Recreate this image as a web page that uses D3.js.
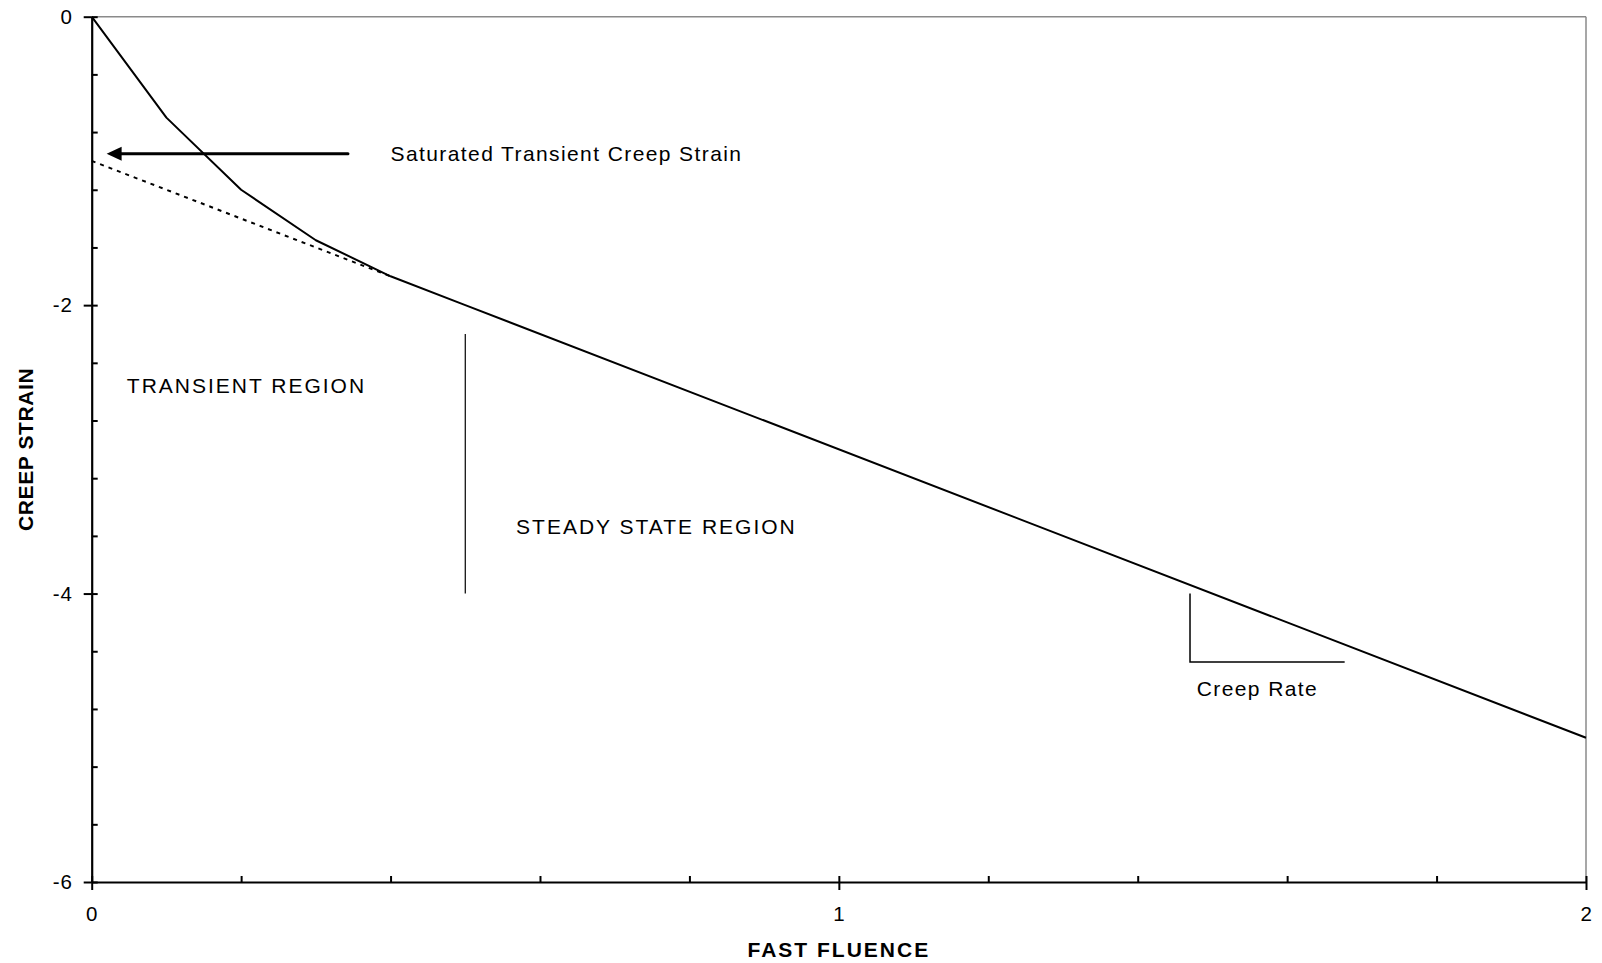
<!DOCTYPE html>
<html>
<head>
<meta charset="utf-8">
<script src="https://cdn.jsdelivr.net/npm/d3@7"></script>
<style>
  body { margin: 0; background: #fff; }
  svg text { font-family: "Liberation Sans", Arial, sans-serif; fill: #000; }
</style>
</head>
<body>
<svg id="chart"></svg>
<script>
// Curva de fluencia
const fluence = [0, 0.1, 0.2, 0.3, 0.4, 0.5, 2];
const strain = [0, -0.7, -1.2, -1.55, -1.8, -2, -5];

// Extrapolacion del estado estacionario (punteada)
const steadyFluence = [0, 0.4];
const steadyStrain = [-1, -1.8];

// Flecha de deformacion transitoria saturada
const arrowFluence = [0.343, 0.02];
const arrowStrain = [-0.95, -0.95];

// Linea divisoria entre regiones
const dividerFluence = [0.5, 0.5];
const dividerStrain = [-2.2, -4.0];

// Triangulo de velocidad de fluencia
const rateFluence = [1.47, 1.47, 1.677];
const rateStrain = [-4.0, -4.475, -4.475];

// Etiquetas de texto
const labelText = ['Saturated Transient Creep Strain', 'TRANSIENT REGION', 'STEADY STATE REGION', 'Creep Rate'];
const labelFluence = [0.4, 0.047, 0.568, 1.479];
const labelStrain = [-1.0, -2.606, -3.584, -4.712];

// Ticks
const xMajor = [0, 1, 2];
const xMinor = d3.range(0, 2.0001, 0.2);
const yMajor = [0, -2, -4, -6];
const yMinor = d3.range(0, -6.0001, -0.4);

const W = 1602, H = 963;
const margin = { top: 16.7, right: 16, bottom: 81, left: 91.7 };
const width = W - margin.left - margin.right;
const height = H - margin.top - margin.bottom;

const svg = d3.select('#chart').attr('width', W).attr('height', H);
const g = svg.append('g').attr('transform', `translate(${margin.left},${margin.top})`);

const x = d3.scaleLinear().domain([0, 2]).range([0, width]);
const y = d3.scaleLinear().domain([-6, 0]).range([height, 0]);

// numeros con guion normal
const fmt = d => String(d);

// Marco gris superior y derecho
g.append('line').attr('x1', 0).attr('x2', width).attr('y1', 0).attr('y2', 0)
  .attr('stroke', '#8a8a8a').attr('stroke-width', 1.5);
g.append('line').attr('x1', width).attr('x2', width).attr('y1', 0).attr('y2', height)
  .attr('stroke', '#8a8a8a').attr('stroke-width', 1.5);

// Ticks menores hacia dentro
g.append('g').attr('class', 'minor')
  .call(d3.axisRight(y).tickValues(yMinor).tickSize(6).tickFormat(''));
g.append('g').attr('class', 'minor')
  .attr('transform', `translate(0,${height})`)
  .call(d3.axisTop(x).tickValues(xMinor).tickSize(6).tickFormat(''));
g.selectAll('.minor .domain').remove();

// Ejes principales
const yAxis = g.append('g')
  .call(d3.axisLeft(y).tickValues(yMajor).tickSize(8).tickSizeOuter(0).tickPadding(11).tickFormat(fmt));
const xAxis = g.append('g')
  .attr('transform', `translate(0,${height})`)
  .call(d3.axisBottom(x).tickValues(xMajor).tickSize(8).tickSizeOuter(0).tickPadding(16).tickFormat(fmt));

[yAxis, xAxis].forEach(ax => {
  ax.select('.domain').attr('stroke', '#000').attr('stroke-width', 2.2);
  ax.selectAll('.tick text').style('font-size', '20.5px').style('letter-spacing', '0.8px').attr('fill', '#000');
});
g.selectAll('.tick line').attr('stroke', '#000').attr('stroke-width', 2);

// Curva de fluencia
const line = d3.line().x(d => x(d[0])).y(d => y(d[1]));

g.append('path')
  .datum(d3.zip(steadyFluence, steadyStrain))
  .attr('d', line)
  .attr('fill', 'none')
  .attr('stroke', '#000')
  .attr('stroke-width', 2)
  .attr('stroke-dasharray', '4,5');

g.append('path')
  .datum(d3.zip(fluence, strain))
  .attr('d', line)
  .attr('fill', 'none')
  .attr('stroke', '#000')
  .attr('stroke-width', 2)
  .attr('stroke-linejoin', 'round');

// Flecha
const arrowPts = d3.zip(arrowFluence, arrowStrain);
g.append('line')
  .attr('x1', x(arrowPts[0][0])).attr('y1', y(arrowPts[0][1]))
  .attr('x2', x(arrowPts[1][0]) + 10).attr('y2', y(arrowPts[1][1]))
  .attr('stroke', '#000').attr('stroke-width', 3)
  .attr('stroke-linecap', 'round');
g.append('path')
  .attr('d', `M${x(arrowPts[1][0])},${y(arrowPts[1][1])} l15,-7 l0,14 Z`)
  .attr('fill', '#000');

// Divisoria y triangulo
g.append('path')
  .datum(d3.zip(dividerFluence, dividerStrain))
  .attr('d', line)
  .attr('fill', 'none').attr('stroke', '#000').attr('stroke-width', 1.2);
g.append('path')
  .datum(d3.zip(rateFluence, rateStrain))
  .attr('d', line)
  .attr('fill', 'none').attr('stroke', '#000').attr('stroke-width', 1.5);

// Etiquetas
g.selectAll('.label')
  .data(d3.zip(labelText, labelFluence, labelStrain))
  .enter()
  .append('text')
  .attr('class', 'label')
  .attr('x', d => x(d[1]))
  .attr('y', d => y(d[2]))
  .style('font-size', '21px')
  .style('letter-spacing', d => d[0] === d[0].toUpperCase() ? '2px' : '1.4px')
  .text(d => d[0]);

// Titulos de ejes
svg.append('text')
  .attr('x', margin.left + width / 2)
  .attr('y', 957)
  .attr('text-anchor', 'middle')
  .style('font-size', '21px')
  .style('font-weight', 'bold')
  .style('letter-spacing', '2px')
  .text('FAST FLUENCE');

svg.append('text')
  .attr('transform', `translate(33,${margin.top + height / 2}) rotate(-90)`)
  .attr('text-anchor', 'middle')
  .style('font-size', '21px')
  .style('font-weight', 'bold')
  .style('letter-spacing', '0.6px')
  .text('CREEP STRAIN');
</script>
</body>
</html>
